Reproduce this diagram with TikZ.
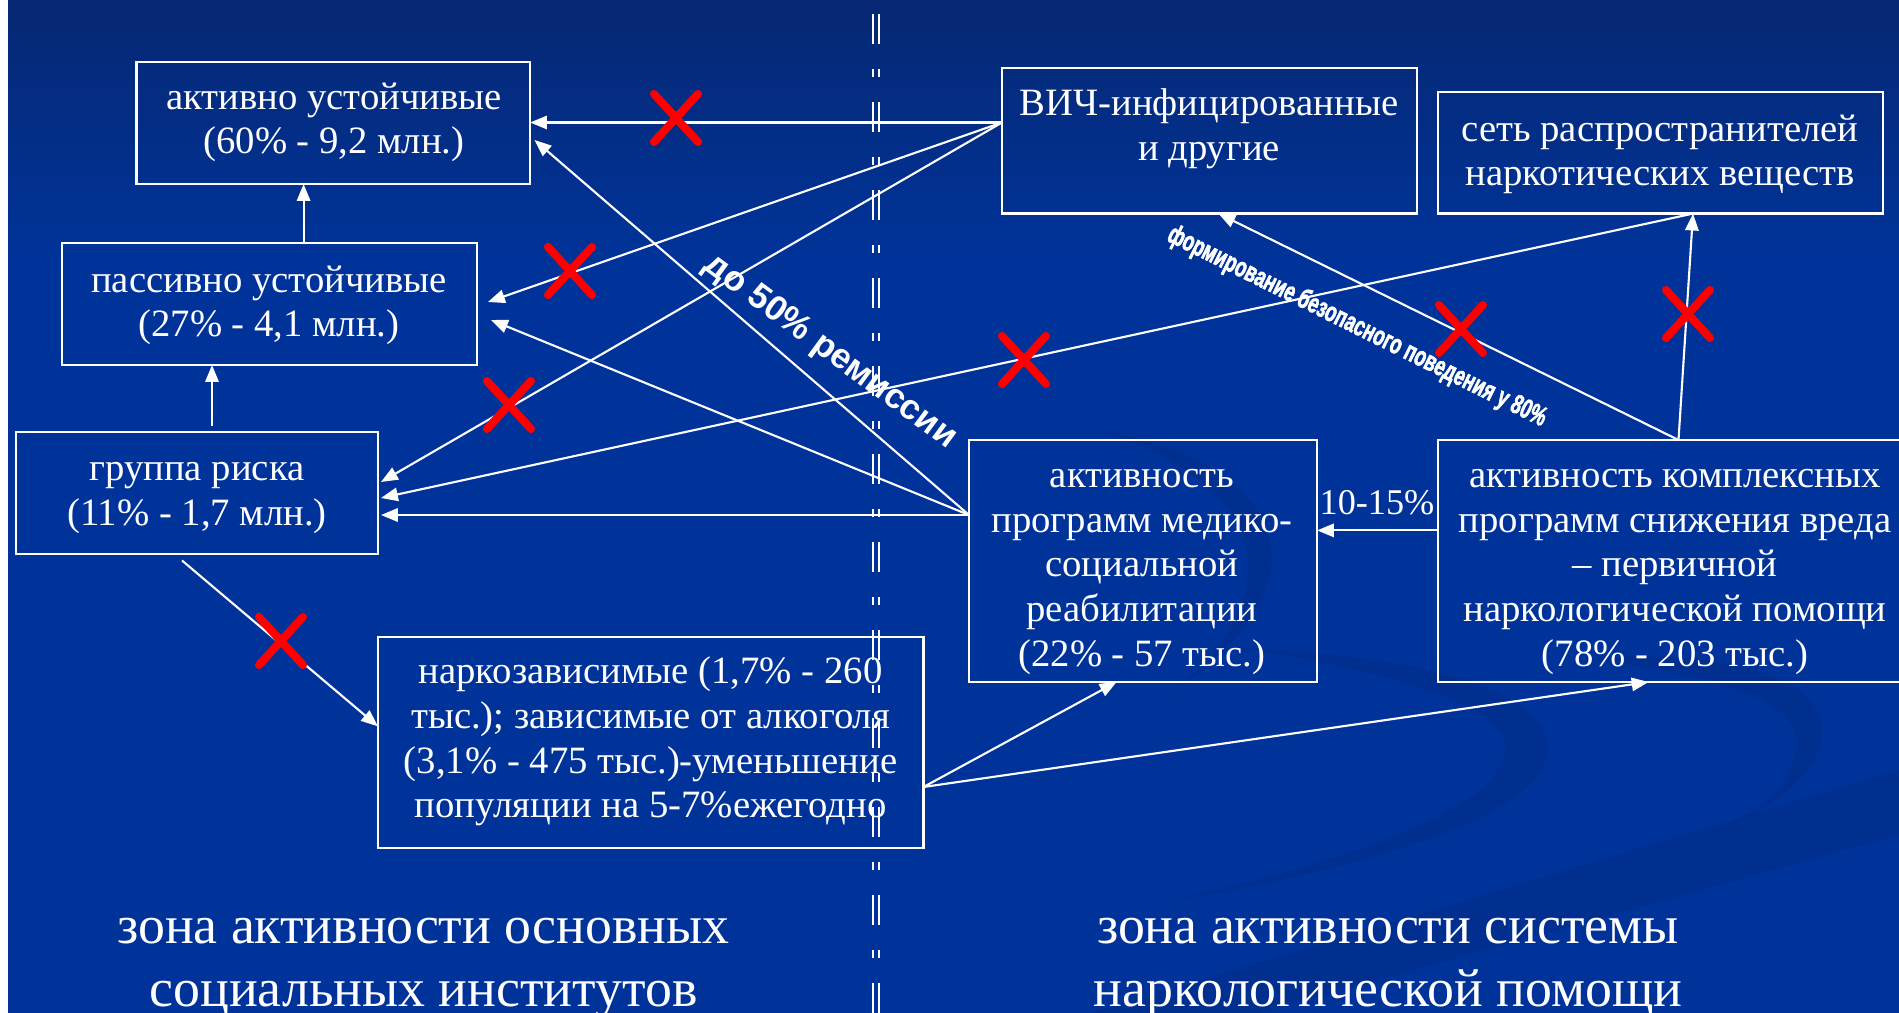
\documentclass[tikz,border=0pt]{standalone}
\usepackage{fontspec}
\setmainfont{Liberation Serif}
\newfontfamily\labfont{Liberation Sans}
\newfontfamily\heavylab{Liberation Sans}[BoldFeatures={FakeBold=2.5}]
\usetikzlibrary{arrows.meta,calc}
\definecolor{bgblue}{RGB}{0,51,153}
\definecolor{bgtop}{RGB}{6,40,115}
\definecolor{swirl}{RGB}{0,36,120}
\definecolor{xred}{RGB}{255,0,0}
\tikzset{
  box/.style={draw=white, line width=0.75pt, inner sep=0pt, outer sep=0pt},
  txt/.style={text=white, align=center, inner sep=0pt, font=\fontsize{11}{12.66}\selectfont},
  zone/.style={text=white, align=center, inner sep=0pt, font=\fontsize{15.3}{17.9}\selectfont},
  rlab/.style={text=white, inner sep=0pt},
  arr/.style={draw=white, line width=0.6pt, -{Triangle[length=4.8pt,width=3.8pt]}},
  redx/.pic={\draw[xred, line width=2.3pt, line cap=round] (-22,-24) -- (22,24) (-22,24) -- (22,-24);},
  sep/.style={draw=white, line width=0.7pt, dash pattern=on 8.54pt off 7.11pt on 2.28pt off 7.11pt}
}
\begin{document}
\begin{tikzpicture}[x=0.01cm,y=-0.01cm]
% background
\fill[bgblue] (0,0) rectangle (1899,1013);
\shade[top color=bgtop, bottom color=bgblue] (0,0) rectangle (1899,260);
\fill[white] (0,0) rectangle (7.5,1013);
\useasboundingbox (0,0) rectangle (1899,1013);
% faint swirls
\begin{scope}[opacity=0.25]
\fill[swirl] (1150,905) .. controls (1420,860) and (1570,800) .. (1545,735)
  .. controls (1520,680) and (1400,655) .. (1240,648)
  .. controls (1390,672) and (1505,705) .. (1505,748)
  .. controls (1505,805) and (1360,860) .. (1150,905) -- cycle;
\fill[swirl] (1710,832) .. controls (1830,790) and (1845,720) .. (1795,688)
  .. controls (1750,660) and (1660,650) .. (1585,660)
  .. controls (1680,668) and (1790,695) .. (1795,735)
  .. controls (1800,785) and (1760,812) .. (1710,832) -- cycle;
\fill[swirl] (1090,1013) -- (1899,770) -- (1899,835) -- (1260,1013) -- cycle;
\fill[swirl] (1160,700) .. controls (1260,640) and (1300,560) .. (1250,500)
  .. controls (1210,455) and (1150,440) .. (1100,430)
  .. controls (1170,455) and (1230,490) .. (1245,540)
  .. controls (1260,600) and (1220,660) .. (1160,700) -- cycle;
\end{scope}
% separator
\draw[sep] (873,14) -- (873,1013);
\draw[sep] (879,14) -- (879,1013);
% boxes
\node[box, minimum width=3.935cm, minimum height=1.22cm] (A) at (333.25,123) {};
\node[box, minimum width=4.15cm, minimum height=1.22cm] (P) at (269.5,304) {};
\node[box, minimum width=3.62cm, minimum height=1.22cm] (G) at (197,493) {};
\node[box, minimum width=4.147cm, minimum height=1.456cm] (HIV) at (1209.35,140.8) {};
\node[box, minimum width=4.45cm, minimum height=1.216cm] (S) at (1660.5,152.8) {};
\node[box, minimum width=3.48cm, minimum height=2.42cm] (M) at (1143,561) {};
\node[box, minimum width=4.74cm, minimum height=2.42cm] (K) at (1675,561) {};
\node[box, minimum width=5.455cm, minimum height=2.11cm] (N) at (650.75,742.5) {};
% texts
\node[txt] (tA) at (334,122.5) {активно устойчивые\\(60\% - 9,2 млн.)};
\node[txt] (tP) at (269,305.5) {пассивно устойчивые\\(27\% - 4,1 млн.)};
\node[txt] (tG) at (197,498) {группа риска\\(11\% - 1,7 млн.)};
\node[txt] (tHIV) at (1209,129) {ВИЧ-инфицированные\\и другие};
\node[txt] (tS) at (1660,154.5) {сеть распространителей\\наркотических веществ};
\node[txt] (tM) at (1142,572) {активность\\программ медико-\\социальной\\реабилитации\\(22\% - 57 тыс.)};
\node[txt] (tK) at (1675,572) {активность комплексных\\программ снижения вреда\\– первичной\\наркологической помощи\\(78\% - 203 тыс.)};
\node[txt] (tN) at (650.6,741.5) {наркозависимые (1,7\% - 260\\тыс.); зависимые от алкоголя\\(3,1\% - 475 тыс.)-уменьшение\\популяции на 5-7\%ежегодно};
% ports
\coordinate (hivW) at (1002,122.5);
\coordinate (medW) at (969,515);
\coordinate (setB) at (1693,213.6);
\coordinate (kTop) at (1678.5,440);
\coordinate (hivB) at (1218.5,213.6);
\coordinate (kW) at (1438,530.4);
\coordinate (nE) at (923.5,787);
\coordinate (mB) at (1116.6,682);
\coordinate (kB) at (1648.6,682);
\coordinate (gOut) at (182,560.5);
\coordinate (nW) at (378,726.4);
\coordinate (pT1) at (488,302);
\coordinate (gT1) at (381,482);
\coordinate (pT2) at (491,320);
\coordinate (aT2) at (534.5,140);
\coordinate (gT2) at (381,498);
\coordinate (gT3) at (381,515);
\coordinate (pA) at (303.6,243);
\coordinate (gP) at (212,426);
% connectors
\draw[arr] (hivW) -- (hivW -| A.east);
\draw[arr] (hivW) -- (pT1);
\draw[arr] (hivW) -- (gT1);
\draw[arr] (medW) -- (gT3);
\draw[arr] (medW) -- (pT2);
\draw[arr] (medW) -- (aT2);
\draw[arr] (setB) -- (gT2);
\draw[arr] (kTop) -- (setB);
\draw[arr] (kTop) -- (hivB);
\draw[arr] (kW) -- (kW -| M.east);
\draw[arr] (nE) -- (mB);
\draw[arr] (nE) -- (kB);
\draw[arr] (gOut) -- (nW);
\draw[arr] (pA) -- (pA |- A.south);
\draw[arr] (gP) -- (gP |- P.south);
% labels
\node[txt, font=\fontsize{10.3}{12}\selectfont] (l1015) at (1377,503) {10-15\%};
\node[rlab, font=\labfont\bfseries\fontsize{10}{12}\selectfont, rotate=-36.3] (lrem) at (830,352) {до 50\% ремиссии};
\node[rlab, font=\heavylab\bfseries\fontsize{7.8}{9}\selectfont, rotate=-26.4] (lsafe) at (1357,327) {\scalebox{0.67}[1]{формирование безопасного поведения у 80\%}};
\node[zone] (z1) at (423.5,968) {зона активности основных\\социальных институтов};
\node[zone] (z2) at (1388,968) {зона активности системы\\наркологической помощи};
% red crosses
\pic at (676,118) {redx};
\pic at (570,271) {redx};
\pic at (509,405) {redx};
\pic at (281,641) {redx};
\pic at (1024,360) {redx};
\pic at (1461,329) {redx};
\pic at (1688,314) {redx};
\end{tikzpicture}
\end{document}
